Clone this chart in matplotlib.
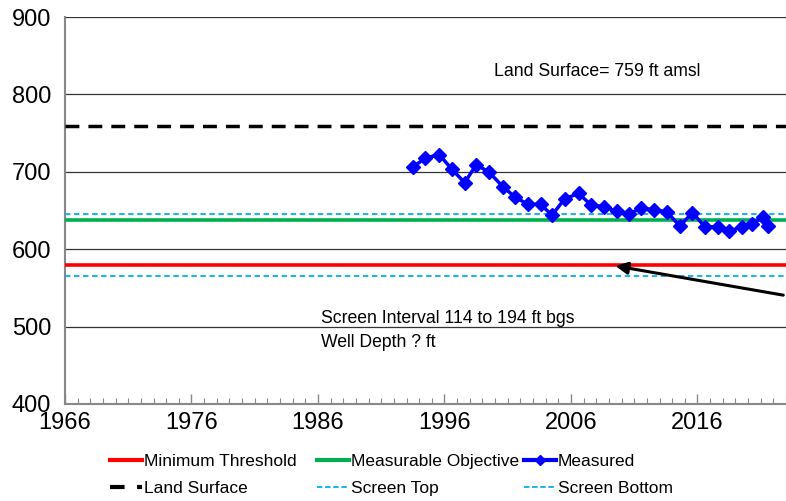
import matplotlib
matplotlib.use('Agg')
import matplotlib.pyplot as plt
from matplotlib.lines import Line2D
from matplotlib.ticker import MultipleLocator

plt.rcParams['font.family'] = ['Liberation Sans', 'DejaVu Sans']

# 数据
years = [1993.5, 1994.5, 1995.6, 1996.6, 1997.6, 1998.5, 1999.5, 2000.6, 2001.6, 2002.6,
         2003.6, 2004.5, 2005.5, 2006.6, 2007.6, 2008.6, 2009.6, 2010.6, 2011.5, 2012.6,
         2013.6, 2014.6, 2015.6, 2016.6, 2017.6, 2018.5, 2019.5, 2020.3, 2021.2, 2021.6]
measured = [706, 718, 722, 703, 686, 709, 700, 681, 667, 658,
            658, 644, 665, 672, 657, 655, 649, 645, 653, 651,
            648, 630, 647, 629, 629, 623, 629, 633, 641, 630]

land_surface = 759
screen_top = 645
measurable_objective = 638
minimum_threshold = 579
screen_bottom = 565

fig = plt.figure(figsize=(7.86, 5.01), dpi=100)
ax = fig.add_axes([65 / 786, 1 - 404 / 501, 1 - 65 / 786, (404 - 17) / 501])

# 水平参考线
ax.axhline(land_surface, color='black', lw=2.5, ls=(0, (4, 2.6)), zorder=3)
ax.axhline(screen_top, color='#00B0F0', lw=1.3, ls=(0, (3, 2)), zorder=3)
ax.axhline(measurable_objective, color='#00B050', lw=2.6, zorder=3)
ax.axhline(minimum_threshold, color='#FF0000', lw=2.6, zorder=3)
ax.axhline(screen_bottom, color='#00B0F0', lw=1.3, ls=(0, (3, 2)), zorder=3)

# 实测水位
ax.plot(years, measured, color='#0000FF', lw=2.5, marker='D', ms=7, zorder=4)

ax.set_xlim(1966, 2023)
ax.set_ylim(400, 900)
ax.xaxis.set_major_locator(MultipleLocator(10, offset=6))
ax.xaxis.set_minor_locator(MultipleLocator(1))
ax.yaxis.set_major_locator(MultipleLocator(100))
ax.tick_params(axis='x', which='major', direction='in', length=7, width=1, color='#888888',
               labelsize=17, pad=6)
ax.tick_params(axis='x', which='minor', direction='in', length=4, width=0.8, color='#888888')
ax.tick_params(axis='y', length=0, labelsize=17, pad=10)
ax.grid(axis='y', color='#333333', lw=0.9)

for s in ['top', 'right']:
    ax.spines[s].set_visible(False)
for s in ['left', 'bottom']:
    ax.spines[s].set_color('#888888')
    ax.spines[s].set_linewidth(1.5)

# 文本注释
ax.text(1999.9, 830, 'Land Surface= 759 ft amsl', fontsize=12.7, va='center')
ax.text(1986.2, 510, 'Screen Interval 114 to 194 ft bgs', fontsize=12.7, va='center')
ax.text(1986.2, 480, 'Well Depth ? ft', fontsize=12.7, va='center')

ax.annotate('', xy=(2009.3, 579), xytext=(2023, 540), annotation_clip=False,
            arrowprops=dict(arrowstyle='-|>', color='black', lw=2.2, mutation_scale=18))

# 图例（三列，每列单独放置）
h_min = Line2D([], [], color='#FF0000', lw=3)
h_obj = Line2D([], [], color='#00B050', lw=3)
h_meas = Line2D([], [], color='#0000FF', lw=3, marker='D', ms=5)
h_land = Line2D([], [], color='black', lw=3, ls=(0, (3.5, 3)))
h_top = Line2D([], [], color='#00B0F0', lw=1.3, ls=(0, (3, 1.5)))
h_bot = Line2D([], [], color='#00B0F0', lw=1.3, ls=(0, (3, 1.5)))

columns = [
    ([h_min, h_land], ['Minimum Threshold', 'Land Surface'], 110),
    ([h_obj, h_top], ['Measurable Objective', 'Screen Top'], 317),
    ([h_meas, h_bot], ['Measured', 'Screen Bottom'], 524),
]
for handles, labels, xpix in columns:
    fig.legend(handles, labels, loc='upper left', bbox_to_anchor=(xpix / 786, 1 - 454 / 501),
               frameon=False, fontsize=12.5, handlelength=1.85, handletextpad=0.1,
               borderpad=0, borderaxespad=0, labelspacing=0.65)

plt.savefig('out.png', dpi=100)
